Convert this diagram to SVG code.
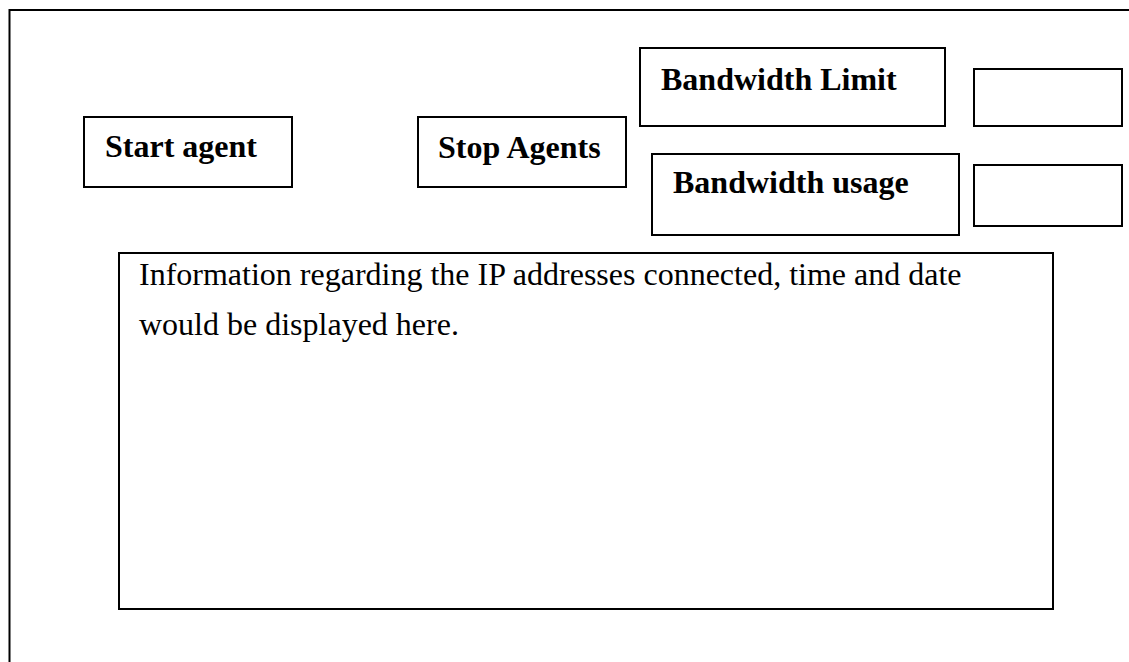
<svg xmlns="http://www.w3.org/2000/svg" width="1129" height="662" viewBox="0 0 1129 662">
  <style>
    .box { fill: #ffffff; stroke: #000000; stroke-width: 2; }
    .frame { fill: none; stroke: #000000; stroke-width: 2; }
    .label { font-family: "Liberation Serif", "Times New Roman", serif; font-weight: bold; font-size: 32px; fill: #000000; }
    .body { font-family: "Liberation Serif", "Times New Roman", serif; font-size: 32px; fill: #000000; }
  </style>
  <rect width="1129" height="662" fill="#ffffff"/>

  <!-- outer window frame, running off the right and bottom edges -->
  <path class="frame" d="M 1135 10 L 9.5 10 L 9.5 670"/>

  <g id="start-agent">
    <rect class="box" x="84" y="117" width="208" height="70"/>
    <text class="label" x="105" y="157">Start agent</text>
  </g>

  <g id="stop-agents">
    <rect class="box" x="418" y="117" width="208" height="70"/>
    <text class="label" x="438" y="158">Stop Agents</text>
  </g>

  <g id="bandwidth-limit">
    <rect class="box" x="640" y="48" width="305" height="78"/>
    <text class="label" x="661" y="90">Bandwidth Limit</text>
  </g>

  <g id="bandwidth-limit-value">
    <rect class="box" x="974" y="69" width="148" height="57"/>
  </g>

  <g id="bandwidth-usage">
    <rect class="box" x="652" y="154" width="307" height="81"/>
    <text class="label" x="673" y="193">Bandwidth usage</text>
  </g>

  <g id="bandwidth-usage-value">
    <rect class="box" x="974" y="165" width="148" height="61"/>
  </g>

  <g id="info-panel">
    <rect class="box" x="119" y="253" width="934" height="356"/>
    <text class="body" x="139" y="285">Information regarding the IP addresses connected, time and date</text>
    <text class="body" x="139" y="335">would be displayed here.</text>
  </g>

  <g id="connectors"></g>
</svg>
